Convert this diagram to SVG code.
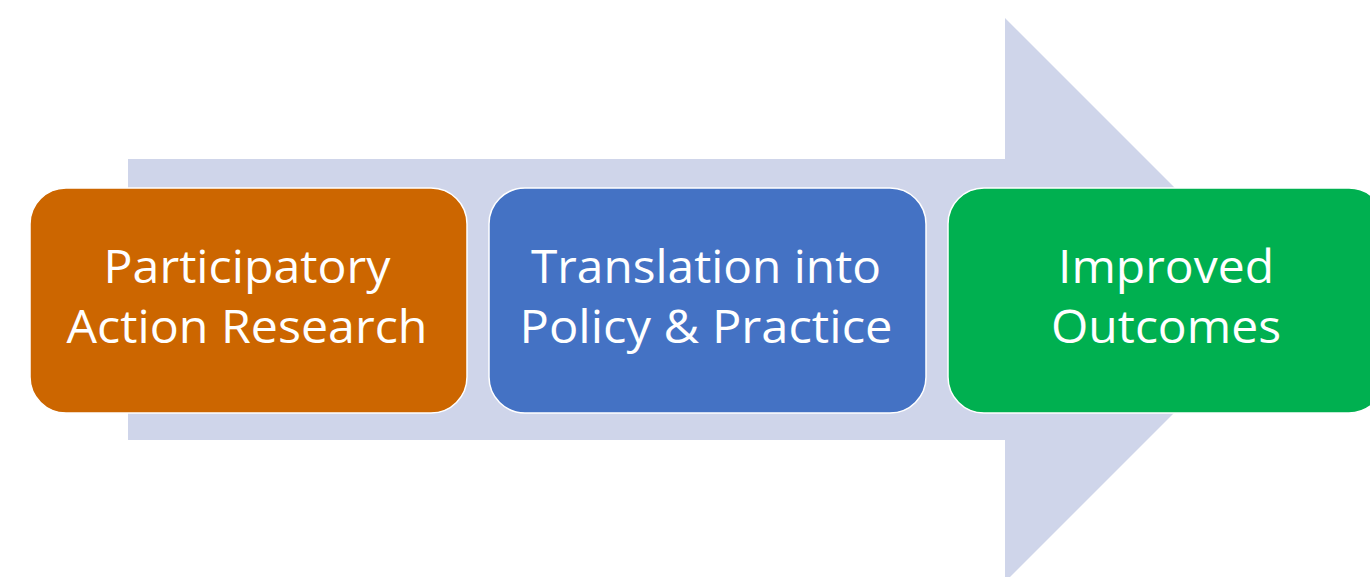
<svg xmlns="http://www.w3.org/2000/svg" width="1370" height="577" viewBox="0 0 1370 577">
<style>
.box{stroke:#ffffff;stroke-width:1.5}
.lbl{font-family:"Open Sans","Liberation Sans",sans-serif;font-size:45px;fill:#ffffff;text-anchor:middle}
</style>
<rect x="0" y="0" width="1370" height="577" fill="#ffffff"/>
<g id="connectors">
<polygon points="128,159 1005,159 1005,18 1287,300 1005,582 1005,440 128,440" fill="#CFD5EA"/>
</g>
<g id="node1">
<rect class="box" x="30" y="188" width="437" height="225" rx="36" ry="36" fill="#CC6600"/>
<text class="lbl" x="247" y="283" textLength="287" lengthAdjust="spacingAndGlyphs">Participatory</text>
<text class="lbl" x="247" y="343" textLength="361" lengthAdjust="spacingAndGlyphs">Action Research</text>
</g>
<g id="node2">
<rect class="box" x="489" y="188" width="437" height="225" rx="36" ry="36" fill="#4472C4"/>
<text class="lbl" x="706" y="283" textLength="350" lengthAdjust="spacingAndGlyphs">Translation into</text>
<text class="lbl" x="706" y="343" textLength="373" lengthAdjust="spacingAndGlyphs">Policy &amp; Practice</text>
</g>
<g id="node3">
<rect class="box" x="948" y="188" width="437" height="225" rx="36" ry="36" fill="#00B050"/>
<text class="lbl" x="1166" y="283" textLength="216" lengthAdjust="spacingAndGlyphs">Improved</text>
<text class="lbl" x="1166" y="343" textLength="230" lengthAdjust="spacingAndGlyphs">Outcomes</text>
</g>
</svg>
